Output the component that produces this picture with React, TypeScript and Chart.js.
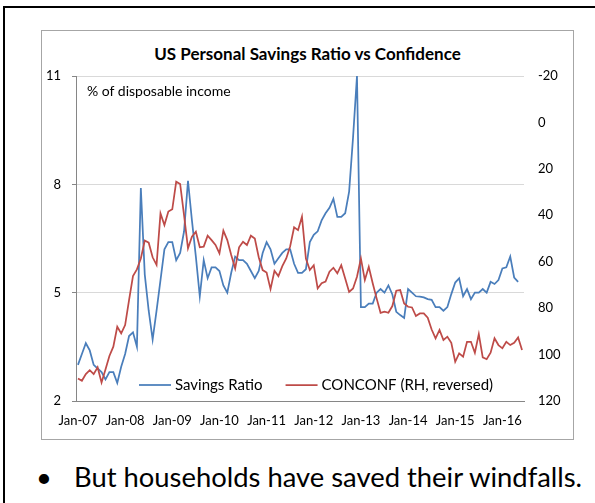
import React, { useEffect, useRef } from 'react';
import { Chart, registerables } from 'chart.js';

Chart.register(...registerables);

// ---- data ----
const startYear = 2007;
const monthCount = 114; // Jan-07 .. Jun-16
const monthNames = ['Jan', 'Feb', 'Mar', 'Apr', 'May', 'Jun', 'Jul', 'Aug', 'Sep', 'Oct', 'Nov', 'Dec'];
const categories: string[] = [];
for (let i = 0; i < monthCount; i++) {
  const y = startYear + Math.floor(i / 12);
  categories.push(`${monthNames[i % 12]}-${String(y % 100).padStart(2, '0')}`);
}

// Personal savings ratio, % of disposable income (left axis)
const savingsRatio: (number | null)[] = [
  3.0, 3.3, 3.6, 3.4, 3.0, 2.9, 2.8, 2.6, 2.8, 2.8, 2.5, 2.95,
  3.3, 3.8, 3.9, 3.5, 7.9, 5.5, 4.5, 3.7, 4.5, 5.35, 6.2, 6.4,
  6.4, 5.9, 6.1, 6.7, 8.1, 7.0, 6.0, 4.9, 5.9, 5.4, 5.7, 5.7,
  5.6, 5.2, 5.0, 5.55, 6.0, 5.9, 5.9, 5.8, 5.6, 5.4, 5.6, 6.1,
  6.4, 6.2, 5.8, 5.95, 6.1, 6.2, 6.2, 5.8, 5.55, 5.55, 5.65, 6.4,
  6.6, 6.7, 7.0, 7.2, 7.35, 7.6, 7.1, 7.1, 7.2, 7.8, 9.3, 11.0,
  4.6, 4.6, 4.7, 4.7, 5.0, 5.1, 5.0, 5.2, 4.95, 4.47, 4.38, 4.3,
  5.1, 5.0, 4.9, 4.89, 4.87, 4.82, 4.8, 4.6, 4.6, 4.5, 4.6, 4.96,
  5.28, 5.4, 4.9, 5.1, 4.82, 5.0, 5.0, 5.1, 5.0, 5.3, 5.24, 5.35,
  5.67, 5.7, 6.0, 5.42, 5.3, null,
];

// Conference Board consumer confidence (right axis, reversed)
const conconf: number[] = [
  110.3, 111.3, 108.4, 106.7, 108.4, 105.5, 112, 106.4, 100.6, 96.6, 88, 90.9,
  87.3, 76.5, 66.2, 63.3, 58.6, 50.9, 51.8, 58.1, 61.4, 39.2, 44.2, 38.4,
  37.4, 25.5, 26.5, 40, 54.2, 49.2, 47.1, 53.8, 53.5, 48.8, 50.7, 52.8,
  56.4, 46.6, 50.7, 57.1, 62.9, 53.8, 51.4, 52.8, 48.8, 50, 58.1, 63.6,
  64.7, 71.8, 63.9, 66.2, 61.9, 58.6, 53.3, 45.2, 46.4, 40.6, 58.6, 63.6,
  61.5, 71.5, 69.3, 68.6, 64.3, 62.6, 65, 61.5, 67.2, 73, 71.5, 66.5,
  58.6, 67.9, 62.2, 69.3, 75.8, 82, 81.5, 82, 79.1, 72.5, 72.2, 78,
  79.4, 79.7, 83.4, 82.3, 82.3, 84.1, 89.2, 93, 89.4, 93.7, 92.3, 94.9,
  103.1, 99.5, 100.9, 94.5, 94.5, 99.2, 91.2, 101.2, 102, 99.2, 93, 95.9,
  97.3, 94.5, 95.9, 94.9, 92.6, 98,
];

const leftAxis = { min: 2, max: 11, step: 3 };
const rightAxis = { min: -20, max: 120, step: 20 };

const seriesNames = ['Savings Ratio', 'CONCONF (RH, reversed)'];
const titleText = 'US Personal Savings Ratio vs Confidence';
const unitNote = '% of disposable income';
const bulletText = 'But households have saved their windfalls.';

const FONT = 'Lato, "Open Sans", sans-serif';

const insideLegend = {
  id: 'insideLegend',
  afterDatasetsDraw(chart: any) {
    const { ctx, chartArea } = chart;
    ctx.save();
    ctx.font = `15px ${FONT}`;
    ctx.textBaseline = 'middle';
    let x = chartArea.left + 63;
    const y = chartArea.bottom - 16;
    chart.data.datasets.forEach((ds: any) => {
      ctx.strokeStyle = ds.borderColor;
      ctx.lineWidth = 1.75;
      ctx.beginPath();
      ctx.moveTo(x, y);
      ctx.lineTo(x + 32, y);
      ctx.stroke();
      x += 36;
      ctx.fillStyle = '#000';
      ctx.fillText(ds.label, x, y);
      x += ctx.measureText(ds.label).width + 23;
    });
    ctx.restore();
  },
};

function SavingsChart() {
  const ref = useRef<HTMLCanvasElement | null>(null);
  useEffect(() => {
    if (!ref.current) return;
    const chart = new Chart(ref.current, {
      type: 'line',
      data: {
        labels: categories,
        datasets: [
          {
            label: seriesNames[0],
            data: savingsRatio,
            borderColor: '#4a7ebb',
            borderWidth: 1.75,
            pointRadius: 0,
            tension: 0,
            yAxisID: 'y',
            order: 1,
          },
          {
            label: seriesNames[1],
            data: conconf,
            borderColor: '#be4b48',
            borderWidth: 1.75,
            pointRadius: 0,
            tension: 0,
            yAxisID: 'y1',
            order: 0,
          },
        ],
      },
      options: {
        responsive: false,
        animation: false,
        events: [],
        layout: { padding: { top: 46, left: 0, right: 0, bottom: 0 } },
        plugins: {
          legend: { display: false },
          tooltip: { enabled: false },
          title: { display: false },
        },
        scales: {
          x: {
            type: 'category',
            offset: true,
            grid: { display: false, drawTicks: false },
            border: { display: true, color: '#868686', width: 1 },
            ticks: {
              autoSkip: false,
              maxRotation: 0,
              minRotation: 0,
              padding: 12,
              color: '#000',
              font: { family: FONT, size: 13 },
              callback: (_v: any, idx: number) => (idx % 12 === 0 ? categories[idx] : null),
            },
            afterFit: (s: any) => { s.height = 39; },
          },
          y: {
            position: 'left',
            min: leftAxis.min,
            max: leftAxis.max,
            grid: { color: '#d9d9d9', tickColor: '#868686', tickLength: 4, drawTicks: true, lineWidth: 1 },
            border: { display: true, color: '#868686', width: 1 },
            ticks: {
              stepSize: leftAxis.step,
              padding: 11,
              color: '#000',
              font: { family: FONT, size: 13 },
            },
            afterFit: (s: any) => { s.width = 35; },
          },
          y1: {
            position: 'right',
            reverse: true,
            min: rightAxis.min,
            max: rightAxis.max,
            grid: { display: false, drawTicks: false, drawOnChartArea: false },
            border: { display: false },
            ticks: {
              stepSize: rightAxis.step,
              padding: 14,
              color: '#000',
              font: { family: FONT, size: 13 },
            },
            afterFit: (s: any) => { s.width = 50; },
          },
        },
      },
      plugins: [insideLegend],
    } as any);
    return () => chart.destroy();
  }, []);
  return (
    <canvas
      ref={ref}
      width={533}
      height={410}
      style={{ position: 'absolute', left: 41, top: 30, width: 533, height: 410 }}
    />
  );
}

export default function App() {
  return (
    <div
      style={{
        position: 'fixed', left: 0, top: 0, width: 595, height: 503,
        overflow: 'hidden', background: '#fff', fontFamily: FONT,
      }}
    >
      <div
        style={{
          position: 'absolute', left: 3, top: 6, width: 592, height: 497,
          borderLeft: '2px solid #000', borderTop: '2px solid #000', boxSizing: 'border-box',
        }}
      />
      <div
        style={{
          position: 'absolute', left: 41, top: 30, width: 533, height: 410,
          border: '1.5px solid #a6a6a6', boxSizing: 'border-box', background: '#fff',
        }}
      />
      <div
        style={{
          position: 'absolute', left: 41, top: 43, width: 533, textAlign: 'center',
          fontWeight: 700, fontSize: 17, lineHeight: '22px', color: '#000',
        }}
      >
        {titleText}
      </div>
      <SavingsChart />
      <div
        style={{
          position: 'absolute', left: 87, top: 82, fontSize: 14, lineHeight: '18px', color: '#000',
        }}
      >
        {unitNote}
      </div>
      <div
        style={{
          position: 'absolute', left: 36, top: 459, fontSize: 27.4, lineHeight: '36px', color: '#000',
          whiteSpace: 'nowrap',
        }}
      >
        <span style={{ display: 'inline-block', width: 38 }}>•</span>
        {bulletText}
      </div>
    </div>
  );
}
